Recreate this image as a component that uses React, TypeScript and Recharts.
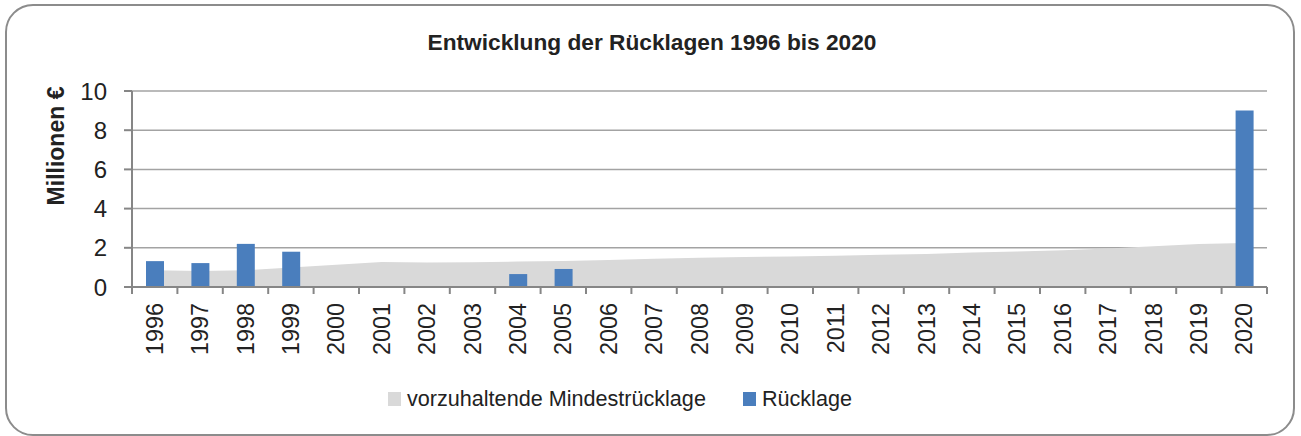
import { Area, Bar, CartesianGrid, ComposedChart, XAxis, YAxis } from "recharts"

const years = [
  "1996", "1997", "1998", "1999", "2000", "2001", "2002", "2003", "2004", "2005", "2006", "2007", "2008",
  "2009", "2010", "2011", "2012", "2013", "2014", "2015", "2016", "2017", "2018", "2019", "2020",
]

// vorzuhaltende Mindestrücklage (Mio. €)
const mindest = [
  0.85, 0.82, 0.85, 1.0, 1.13, 1.28, 1.25, 1.26, 1.3, 1.33, 1.38, 1.44, 1.49,
  1.53, 1.56, 1.59, 1.64, 1.69, 1.76, 1.81, 1.88, 1.97, 2.08, 2.2, 2.24,
]

// Rücklage (Mio. €), null = kein Balken
const ruecklage = [
  1.32, 1.22, 2.2, 1.8, null, null, null, null, 0.66, 0.92, null, null, null,
  null, null, null, null, null, null, null, null, null, null, null, 9.0,
]

const yTicks = [0, 2, 4, 6, 8, 10]

const data = years.map((year, i) => ({ year, mindest: mindest[i], ruecklage: ruecklage[i] }))

const FONT = "'Liberation Sans', Arial, sans-serif"
const TEXT = "#222222"
const AXIS = "#868686"

function YearTick(props: any) {
  const { x, y, payload, index } = props
  const half = payload?.offset ?? 22.7
  const last = index === years.length - 1
  return (
    <g>
      <line x1={x - half} x2={x - half} y1={y} y2={y + 7} stroke={AXIS} strokeWidth={2} />
      {last && <line x1={x + half} x2={x + half} y1={y} y2={y + 7} stroke={AXIS} strokeWidth={2} />}
      <text
        x={x}
        y={y + 16}
        transform={`rotate(-90, ${x}, ${y + 16})`}
        textAnchor="end"
        dominantBaseline="central"
        fontSize={23.4}
        fontFamily={FONT}
        fill={TEXT}
      >
        {payload.value}
      </text>
    </g>
  )
}

function YLabel() {
  return (
    <text
      x={56}
      y={146}
      transform="rotate(-90, 56, 146)"
      textAnchor="middle"
      dominantBaseline="central"
      fontSize={23}
      fontWeight="bold"
      fontFamily={FONT}
      fill={TEXT}
    >
      Millionen €
    </text>
  )
}

export default function App() {
  return (
    <div style={{ position: "absolute", left: 0, top: 0, width: 1301, height: 436, background: "#fff" }}>
      <div
        style={{
          position: "absolute",
          left: 5,
          top: 4,
          width: 1290,
          height: 432,
          boxSizing: "border-box",
          border: "2px solid #8c8c8c",
          borderRadius: 28,
        }}
      />
      <div
        style={{
          position: "absolute",
          left: 352,
          top: 29,
          width: 600,
          textAlign: "center",
          fontFamily: FONT,
          fontWeight: "bold",
          fontSize: 22.7,
          lineHeight: "26px",
          color: TEXT,
        }}
      >
        Entwicklung der Rücklagen 1996 bis 2020
      </div>
      <ComposedChart
        width={1301}
        height={436}
        data={data}
        margin={{ top: 91, right: 34, bottom: 0, left: 0 }}
        style={{ position: "absolute", left: 0, top: 0 }}
      >
        <CartesianGrid vertical={false} stroke="#a3a3a3" strokeWidth={1.5} />
        <XAxis
          dataKey="year"
          height={149}
          interval={0}
          tickLine={false}
          tickSize={0}
          tickMargin={0}
          axisLine={{ stroke: AXIS, strokeWidth: 2 }}
          tick={<YearTick />}
        />
        <YAxis
          width={132}
          domain={[0, 10]}
          ticks={yTicks}
          interval={0}
          tickSize={8}
          tickMargin={17}
          tickLine={{ stroke: AXIS, strokeWidth: 2 }}
          axisLine={{ stroke: AXIS, strokeWidth: 2 }}
          tick={{ fontSize: 24, fontFamily: FONT, fill: TEXT }}
          label={<YLabel />}
        />
        <Area
          type="linear"
          dataKey="mindest"
          fill="#d9d9d9"
          fillOpacity={1}
          stroke="none"
          isAnimationActive={false}
        />
        <Bar dataKey="ruecklage" fill="#4a7ebd" barSize={18} isAnimationActive={false} />
      </ComposedChart>
      <div
        style={{
          position: "absolute",
          left: 388,
          top: 386,
          display: "flex",
          alignItems: "center",
          fontFamily: FONT,
          fontSize: 21.6,
          lineHeight: "26px",
          color: TEXT,
          whiteSpace: "nowrap",
        }}
      >
        <span style={{ width: 13, height: 14, background: "#d9d9d9", marginRight: 6 }} />
        <span style={{ marginRight: 37 }}>vorzuhaltende Mindestrücklage</span>
        <span style={{ width: 13, height: 14, background: "#4a7ebd", marginRight: 6 }} />
        <span>Rücklage</span>
      </div>
    </div>
  )
}
